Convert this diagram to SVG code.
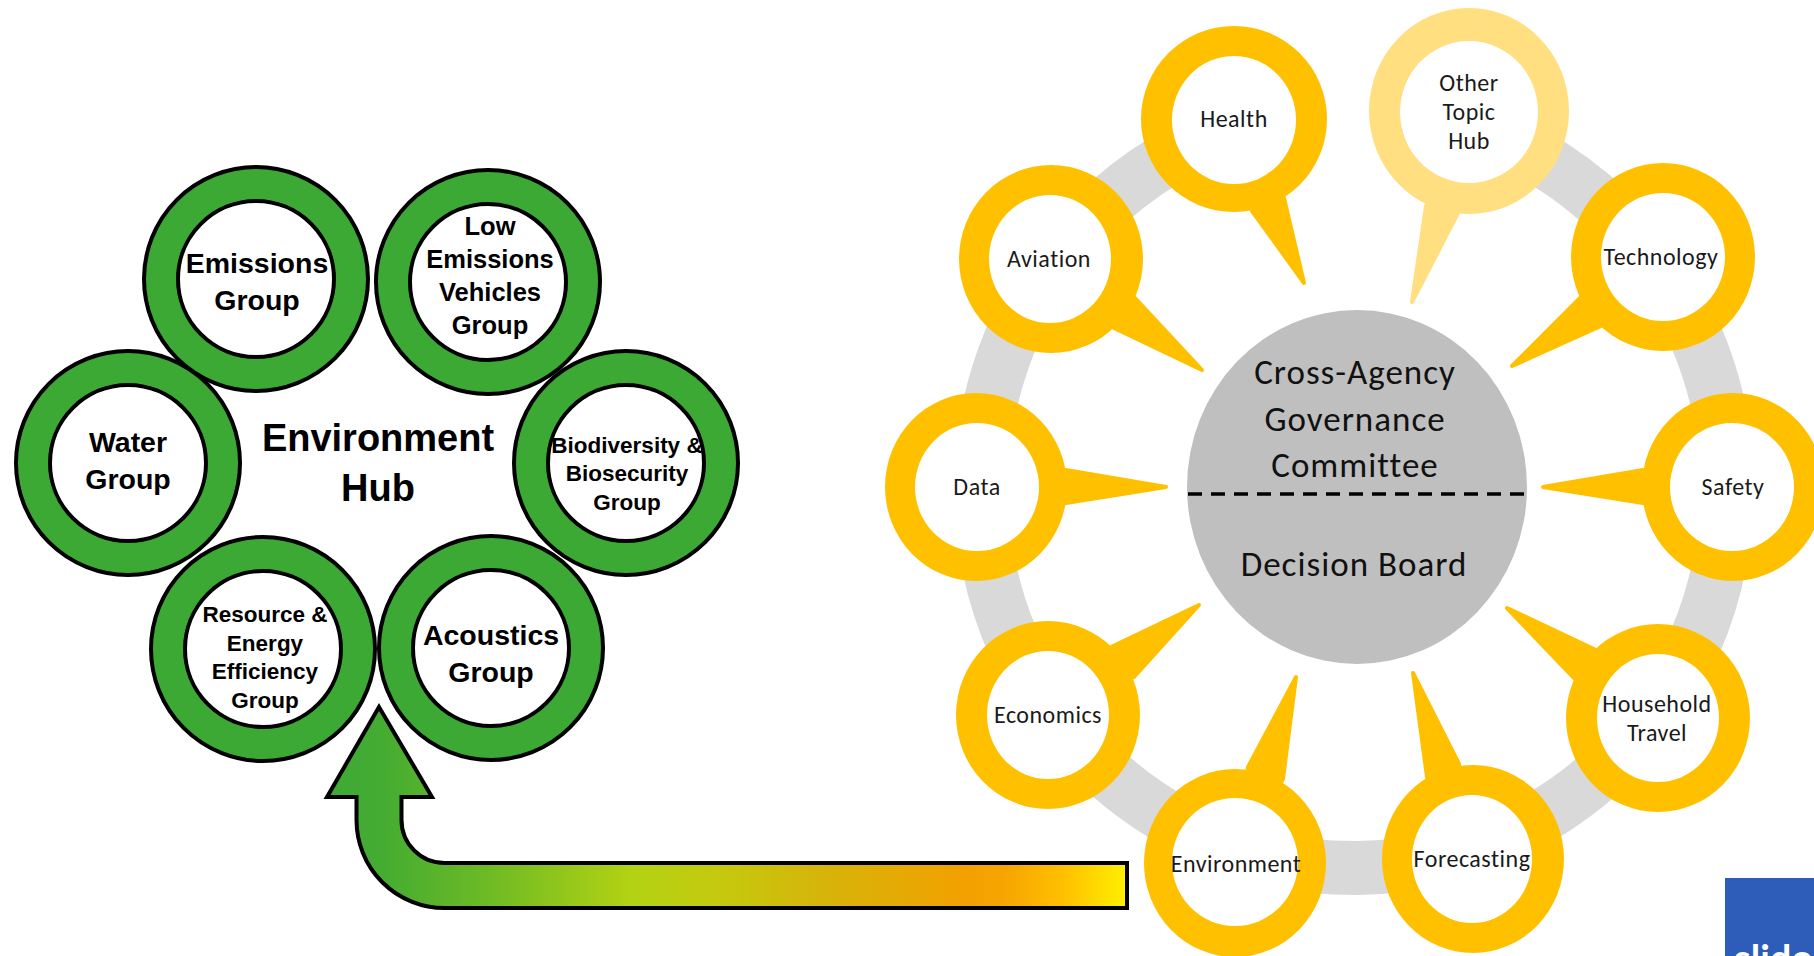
<svg xmlns="http://www.w3.org/2000/svg" width="1814" height="956" viewBox="0 0 1814 956">
<defs>
<linearGradient id="arrowGrad" gradientUnits="userSpaceOnUse" x1="327" y1="0" x2="1127" y2="0">
<stop offset="0" stop-color="#3DA935"/>
<stop offset="0.07" stop-color="#45AC32"/>
<stop offset="0.2" stop-color="#6DBA25"/>
<stop offset="0.38" stop-color="#B3D213"/>
<stop offset="0.5" stop-color="#C6C80E"/>
<stop offset="0.62" stop-color="#D6B40A"/>
<stop offset="0.8" stop-color="#F3A100"/>
<stop offset="0.85" stop-color="#F7A600"/>
<stop offset="0.92" stop-color="#FFC000"/>
<stop offset="1" stop-color="#FFF000"/>
</linearGradient>
</defs>
<style>
.gring{fill:#3DA935;stroke:#000;stroke-width:4}
.gin{fill:#fff;stroke:#000;stroke-width:4}
.gt{font-family:"Liberation Sans",Arial,sans-serif;font-weight:bold;fill:#000;text-anchor:middle}
.yb{fill:#FFC000}
.yt{fill:#FFC000;stroke:#FFC000;stroke-width:4;stroke-linejoin:round}
.lb{fill:#FFDF80}
.lt{fill:#FFDF80;stroke:#FFDF80;stroke-width:4;stroke-linejoin:round}
.win{fill:#fff}
.bt{font-family:Carlito,Lato,sans-serif;font-size:24px;letter-spacing:0.5px;fill:#1a1a1a;text-anchor:middle}
.ct{font-family:Carlito,Lato,sans-serif;font-size:35px;letter-spacing:1px;fill:#111;text-anchor:middle}
</style>
<rect x="0" y="0" width="1814" height="956" fill="#fff"/>

<g id="ring">
<path d="M1440,118.3 A373,380 0 1 1 1260,120.3" fill="none" stroke="#D9D9D9" stroke-width="54"/>
</g>

<g id="center">
<ellipse cx="1357" cy="487" rx="170" ry="177" fill="#BFBFBF"/>
<line x1="1188" y1="494" x2="1527" y2="494" stroke="#000" stroke-width="3.5" stroke-dasharray="14 9"/>
<text class="ct" x="1355" y="384">Cross-Agency</text>
<text class="ct" x="1355" y="431">Governance</text>
<text class="ct" x="1355" y="477">Committee</text>
<text class="ct" x="1354" y="576">Decision Board</text>
</g>

<g id="health">
<polygon class="yt" points="1252,211 1304,283 1284,198 1234,119"/>
<ellipse class="yb" cx="1234" cy="119" rx="93" ry="93"/>
<ellipse class="win" cx="1234" cy="120" rx="62" ry="64"/>
<text class="bt" x="1234" y="127">Health</text>
</g>

<g id="other-topic-hub">
<polygon class="lt" points="1426,206 1412,302 1458,213 1469,111"/>
<ellipse class="lb" cx="1469" cy="111" rx="100" ry="103"/>
<ellipse class="win" cx="1469" cy="112" rx="69" ry="71"/>
<text class="bt" x="1469" y="91">Other</text>
<text class="bt" x="1469" y="120">Topic</text>
<text class="bt" x="1469" y="149">Hub</text>
</g>

<g id="aviation">
<polygon class="yt" points="1114,328 1202,370 1135,298 1051,259"/>
<ellipse class="yb" cx="1051" cy="259" rx="92" ry="94"/>
<ellipse class="win" cx="1050" cy="259" rx="61" ry="64"/>
<text class="bt" x="1049" y="267">Aviation</text>
</g>

<g id="technology">
<polygon class="yt" points="1601,326 1512,366 1581,297 1663,257"/>
<ellipse class="yb" cx="1663" cy="257" rx="92" ry="94"/>
<ellipse class="win" cx="1663" cy="257" rx="62" ry="64"/>
<text class="bt" x="1661" y="265">Technology</text>
</g>

<g id="data">
<polygon class="yt" points="1066,470 1166,487 1066,503 976,487"/>
<ellipse class="yb" cx="976" cy="487" rx="91" ry="94"/>
<ellipse class="win" cx="977" cy="487" rx="62" ry="64"/>
<text class="bt" x="977" y="495">Data</text>
</g>

<g id="safety">
<polygon class="yt" points="1643,470 1543,487 1643,503 1733,487"/>
<ellipse class="yb" cx="1733" cy="487" rx="91" ry="94"/>
<ellipse class="win" cx="1732" cy="487" rx="62" ry="64"/>
<text class="bt" x="1733" y="495">Safety</text>
</g>

<g id="economics">
<polygon class="yt" points="1111,647 1199,605 1134,677 1048,715"/>
<ellipse class="yb" cx="1048" cy="715" rx="92" ry="94"/>
<ellipse class="win" cx="1048" cy="715" rx="61" ry="64"/>
<text class="bt" x="1048" y="723">Economics</text>
</g>

<g id="household-travel">
<polygon class="yt" points="1596,650 1507,608 1575,679 1658,718"/>
<ellipse class="yb" cx="1658" cy="718" rx="92" ry="94"/>
<ellipse class="win" cx="1658" cy="718" rx="61" ry="64"/>
<text class="bt" x="1657" y="712">Household</text>
<text class="bt" x="1657" y="741">Travel</text>
</g>

<g id="environment">
<polygon class="yt" points="1248,767 1296,677 1283,779 1235,863"/>
<ellipse class="yb" cx="1235" cy="863" rx="91" ry="94"/>
<ellipse class="win" cx="1235" cy="862" rx="63" ry="64"/>
<text class="bt" x="1236" y="872">Environment</text>
</g>

<g id="forecasting">
<polygon class="yt" points="1427,777 1413,673 1459,764 1473,859"/>
<ellipse class="yb" cx="1473" cy="859" rx="91" ry="94"/>
<ellipse class="win" cx="1472" cy="859" rx="60" ry="64"/>
<text class="bt" x="1472" y="867">Forecasting</text>
</g>

<g id="emissions-group">
<circle class="gring" cx="256" cy="279" r="112"/>
<circle class="gin" cx="256" cy="279" r="78"/>
<text class="gt" font-size="28.5" x="257" y="273">Emissions</text>
<text class="gt" font-size="28.5" x="257" y="310">Group</text>
</g>

<g id="low-emissions-vehicles-group">
<circle class="gring" cx="488" cy="282" r="112"/>
<circle class="gin" cx="488" cy="282" r="78"/>
<text class="gt" font-size="25.5" x="490" y="235">Low</text>
<text class="gt" font-size="25.5" x="490" y="268">Emissions</text>
<text class="gt" font-size="25.5" x="490" y="301">Vehicles</text>
<text class="gt" font-size="25.5" x="490" y="334">Group</text>
</g>

<g id="water-group">
<circle class="gring" cx="128" cy="463" r="112"/>
<circle class="gin" cx="128" cy="463" r="78"/>
<text class="gt" font-size="28.5" x="128" y="452">Water</text>
<text class="gt" font-size="28.5" x="128" y="489">Group</text>
</g>

<g id="biodiversity-biosecurity-group">
<circle class="gring" cx="626" cy="463" r="112"/>
<circle class="gin" cx="626" cy="463" r="78"/>
<text class="gt" font-size="22.5" x="627" y="453">Biodiversity &amp;</text>
<text class="gt" font-size="22.5" x="627" y="481">Biosecurity</text>
<text class="gt" font-size="22.5" x="627" y="510">Group</text>
</g>

<g id="resource-energy-efficiency-group">
<circle class="gring" cx="263" cy="649" r="112"/>
<circle class="gin" cx="263" cy="649" r="78"/>
<text class="gt" font-size="22.5" x="265" y="622">Resource &amp;</text>
<text class="gt" font-size="22.5" x="265" y="651">Energy</text>
<text class="gt" font-size="22.5" x="265" y="679">Efficiency</text>
<text class="gt" font-size="22.5" x="265" y="708">Group</text>
</g>

<g id="acoustics-group">
<circle class="gring" cx="491" cy="648" r="112"/>
<circle class="gin" cx="491" cy="648" r="78"/>
<text class="gt" font-size="28.5" x="491" y="645">Acoustics</text>
<text class="gt" font-size="28.5" x="491" y="682">Group</text>
</g>

<g id="environment-hub-label">
<text class="gt" font-size="38" x="378" y="451">Environment</text>
<text class="gt" font-size="38" x="378" y="501">Hub</text>
</g>

<g id="connectors">
<path d="M379,707 L432,797 L401.5,797 L401.5,820 A43,43 0 0 0 444.5,863 L1127,863 L1127,908 L444.5,908 A88,88 0 0 1 356.5,820 L356.5,797 L327,797 Z" fill="url(#arrowGrad)" stroke="#000" stroke-width="4" stroke-linejoin="miter"/>
</g>

<g id="badge">
<rect x="1725" y="878" width="89" height="78" fill="#2D5DB9"/>
<text x="1734" y="972" font-family="Lato,sans-serif" font-weight="bold" font-size="38" fill="#fff">slido</text>
</g>
</svg>
